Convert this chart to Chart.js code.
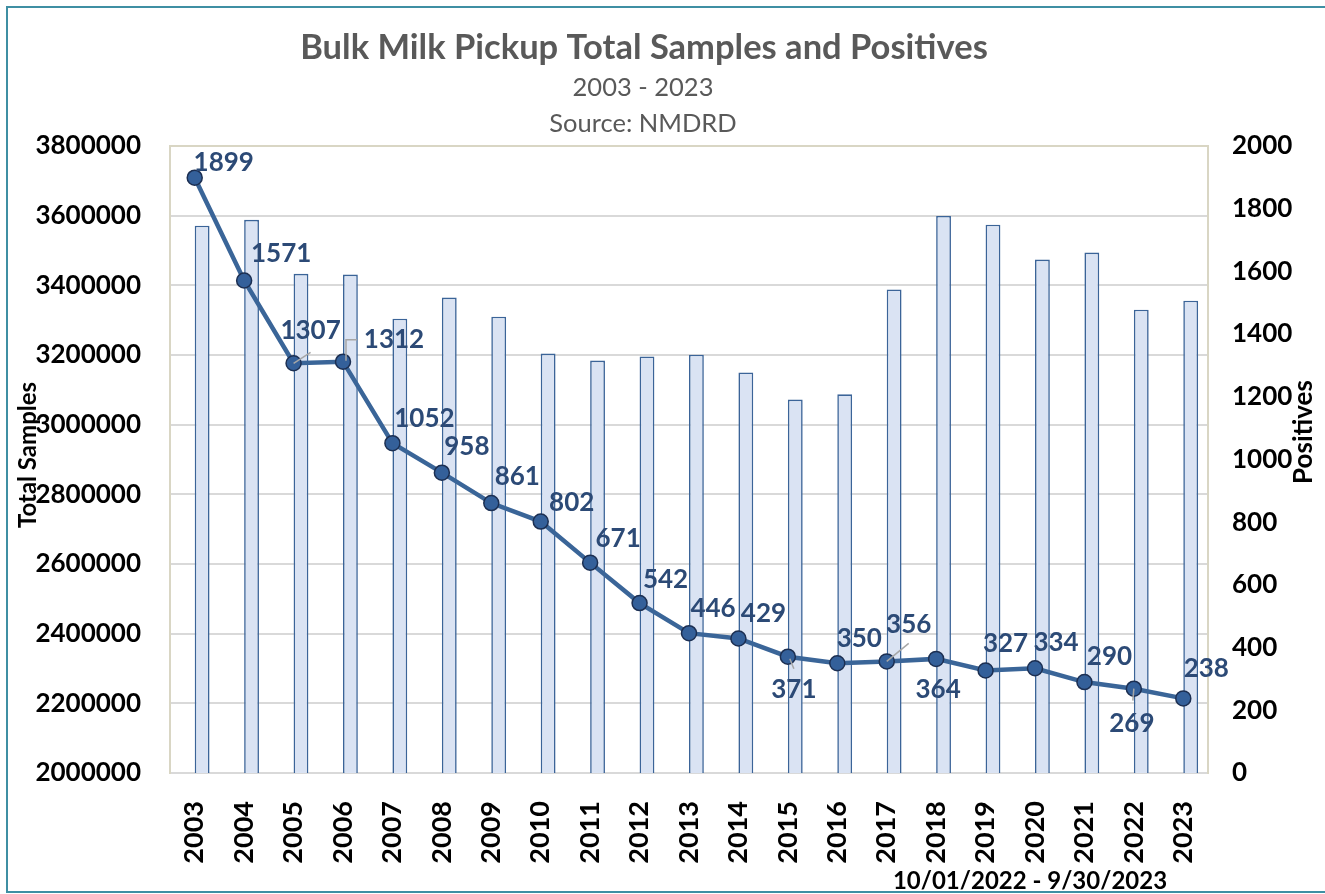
<!DOCTYPE html>
<html>
<head>
<meta charset="utf-8">
<script src="https://cdn.jsdelivr.net/npm/chart.js@4.4.0/dist/chart.umd.min.js"></script>
<style>
  html, body { margin: 0; padding: 0; background: #fff; }
  #wrap { width: 1325px; height: 894px; }
</style>
</head>
<body>
<div id="wrap"><canvas id="myChart" width="1325" height="894"></canvas></div>
<script>
// data
var years = ['2003', '2004', '2005', '2006', '2007', '2008', '2009', '2010', '2011', '2012', '2013',
             '2014', '2015', '2016', '2017', '2018', '2019', '2020', '2021', '2022', '2023'];
var totalSamples = [3571000, 3588000, 3433000, 3431000, 3304000, 3365000, 3310000, 3204000, 3184000, 3196000, 3201000,
                    3150000, 3072000, 3087000, 3388000, 3599000, 3574000, 3474000, 3494000, 3330000, 3356000];
var positives = [1899, 1571, 1307, 1312, 1052, 958, 861, 802, 671, 542, 446,
                 429, 371, 350, 356, 364, 327, 334, 290, 269, 238];

var titleText = 'Bulk Milk Pickup Total Samples and Positives';
var subTitles = ['2003 - 2023', 'Source: NMDRD'];
var periodText = '10/01/2022 - 9/30/2023';

// where each value label sits relative to its point (styling only)
var labelOffsets = [[29, -15], [37, -27], [17, -33], [51, -22], [32, -25], [25, -26], [26, -26], [31, -19],
                    [28, -24], [26, -23], [24, -25], [25, -25], [6, 33], [22, -25], [22, -37], [2, 31],
                    [20, -27], [21, -26], [25, -25], [-2, 35], [23, -30]];
// small grey leader lines for some labels
var leaders = { 2: [[0, 0], [17, -11]], 3: [[3, -1], [3, -22], [14, -22]], 12: [[2, 2], [6, 12]],
                14: [[0, 0], [22, -18]], 19: [[0, 0], [-1, 12]] };

var FONT = 'Lato, "Open Sans", sans-serif';
var beige = '#d9d6c4';
var gridGrey = '#d9d9d9';

var textPlugin = {
  id: 'extraText',
  afterDraw: function (chart) {
    var c = chart.ctx;
    c.save();
    // outer frame
    c.strokeStyle = '#3f8fa3';
    c.lineWidth = 2;
    c.strokeRect(7, 7, 1340, 885);

    c.textAlign = 'center';
    c.textBaseline = 'middle';
    c.fillStyle = '#595959';
    c.font = 'bold 34.5px ' + FONT;
    c.fillText(titleText, 644, 48);
    c.font = '25.5px ' + FONT;
    c.fillText(subTitles[0], 643, 88);
    c.fillText(subTitles[1], 643, 124);

    c.fillStyle = '#000';
    c.font = 'bold 24px ' + FONT;
    c.fillText(periodText, 1030, 881);

    c.save();
    c.font = 'bold 24px ' + FONT;
    c.translate(28, 455);
    c.rotate(-Math.PI / 2);
    c.fillText('Total Samples', 0, 0);
    c.restore();
    c.save();
    c.font = 'bold 26px ' + FONT;
    c.translate(1304, 432);
    c.rotate(-Math.PI / 2);
    c.fillText('Positives', 0, 0);
    c.restore();

    // value labels on the line
    var meta = chart.getDatasetMeta(2);
    c.strokeStyle = '#a6a6a6';
    c.lineWidth = 1.5;
    meta.data.forEach(function (pt, i) {
      var l = leaders[i];
      if (l) {
        c.beginPath();
        for (var k = 0; k < l.length; k++) {
          if (k === 0) c.moveTo(pt.x + l[k][0], pt.y + l[k][1]);
          else c.lineTo(pt.x + l[k][0], pt.y + l[k][1]);
        }
        c.stroke();
      }
    });
    c.fillStyle = '#2c4a76';
    c.font = 'bold 26px ' + FONT;
    meta.data.forEach(function (pt, i) {
      var o = labelOffsets[i];
      c.fillText(String(positives[i]), pt.x + o[0], pt.y + o[1]);
    });
    c.restore();
  }
};

var ctx = document.getElementById('myChart').getContext('2d');
var myChart = new Chart(ctx, {
  type: 'bar',
  data: {
    labels: years,
    datasets: [{
      // positives also sit on the sample axis, so they only show as a flat dash
      label: 'Positives (bar)',
      data: positives,
      yAxisID: 'y',
      backgroundColor: '#4f7fc8',
      borderWidth: 0,
      clip: { left: 0, top: 0, right: 0, bottom: 2 },
      order: 1
    }, {
      label: 'Total Samples',
      data: totalSamples,
      yAxisID: 'y',
      backgroundColor: '#dae3f3',
      borderColor: '#3b6498',
      borderWidth: 1.6,
      borderSkipped: 'bottom',
      order: 2
    }, {
      type: 'line',
      label: 'Positives',
      data: positives,
      yAxisID: 'y2',
      borderColor: '#3a6598',
      borderWidth: 4.5,
      pointRadius: 7.5,
      pointBackgroundColor: '#34609a',
      pointBorderColor: '#1c2f52',
      pointBorderWidth: 1.5,
      tension: 0,
      order: 0
    }]
  },
  options: {
    responsive: false,
    animation: false,
    layout: { padding: { top: 146, left: 0, right: 0, bottom: 0 } },
    datasets: { bar: { categoryPercentage: 0.6, barPercentage: 1.0 } },
    plugins: { legend: { display: false }, tooltip: { enabled: false } },
    scales: {
      x: {
        grid: { display: false },
        border: { color: gridGrey, width: 2 },
        ticks: {
          autoSkip: false, minRotation: 90, maxRotation: 90, padding: 20,
          color: '#000', font: { family: FONT, size: 27, weight: 'bold' }
        },
        afterFit: function (s) { s.height = 121; }
      },
      y: {
        position: 'left',
        min: 2000000,
        max: 3800000,
        ticks: {
          stepSize: 200000, padding: 29, color: '#000',
          font: { family: FONT, size: 26, weight: 'bold' },
          callback: function (v) { return String(v); }
        },
        grid: {
          drawTicks: false, lineWidth: 2,
          color: function (c) { return c.tick && c.tick.value === 3800000 ? beige : gridGrey; }
        },
        border: { color: beige, width: 2 },
        afterFit: function (s) { s.width = 170; }
      },
      y2: {
        position: 'right',
        min: 0,
        max: 2000,
        ticks: {
          stepSize: 200, padding: 24, color: '#000',
          font: { family: FONT, size: 26, weight: 'bold' },
          callback: function (v) { return String(v); }
        },
        grid: { display: false, drawTicks: false },
        border: { color: beige, width: 2 },
        afterFit: function (s) { s.width = 117; }
      }
    }
  },
  plugins: [textPlugin]
});
</script>
</body>
</html>
